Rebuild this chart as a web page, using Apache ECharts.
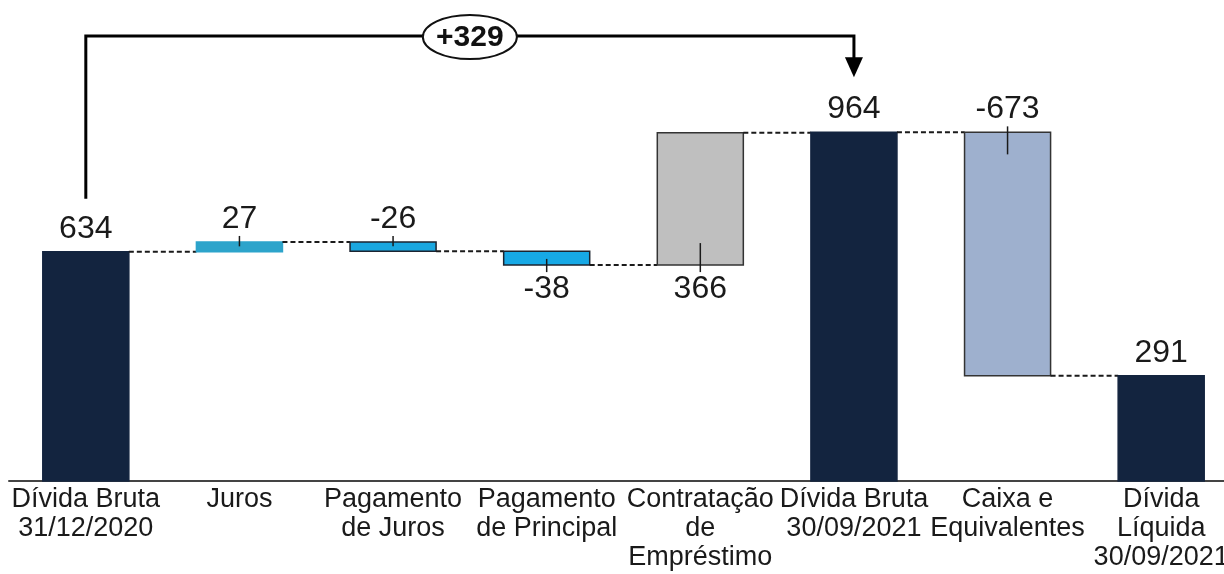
<!DOCTYPE html>
<html>
<head>
<meta charset="utf-8">
<script src="https://cdn.jsdelivr.net/npm/echarts@6/dist/echarts.min.js"></script>
<style>
html,body{margin:0;padding:0;background:#fff;overflow:hidden;width:1224px;height:574px;}
#chart{width:1238px;height:574px;}
</style>
</head>
<body>
<div id="chart"></div>
<script>
// ---- data ----
const categories = [
  'Dívida Bruta\n31/12/2020',
  'Juros',
  'Pagamento\nde Juros',
  'Pagamento\nde Principal',
  'Contratação\nde\nEmpréstimo',
  'Dívida Bruta\n30/09/2021',
  'Caixa e\nEquivalentes',
  'Dívida\nLíquida\n30/09/2021'
];
const values = [634, 27, -26, -38, 366, 964, -673, 291];
const isTotal = [true, false, false, false, false, true, false, true];
const bracketFrom = 0;
const bracketTo = 5;
const bracketValue = 329;

// ---- styles ----
const fills = ['#13243F', '#2DA4CB', '#1AA7E0', '#17A9E6', '#BFBFBF', '#13243F', '#9EB0CE', '#13243F'];
const strokes = ['#13243F', '#2DA4CB', '#1c2430', '#1c2430', '#333333', '#13243F', '#333333', '#13243F'];
const labelSide = ['top', 'top', 'top', 'bottom', 'bottom', 'top', 'top', 'top'];
const FONT = '"Liberation Sans", Arial, sans-serif';

// build start/end table
const table = [];
let running = 0;
values.forEach((v, i) => {
  let s, e;
  if (isTotal[i]) { s = 0; e = v; }
  else { s = running; e = running + v; }
  running = e;
  table.push([i, s, e, v]);
});

function renderBar(params, api) {
  const idx = api.value(0);
  const s = api.value(1), e = api.value(2), v = api.value(3);
  const p0 = api.coord([idx, s]);
  const p1 = api.coord([idx, e]);
  const band = api.size([1, 0])[0];
  const bw = band * 0.56;
  const cx = p0[0];
  const yTop = Math.min(p0[1], p1[1]);
  const yBot = Math.max(p0[1], p1[1]);
  const h = yBot - yTop;
  const children = [];
  children.push({
    type: 'rect',
    shape: { x: cx - bw / 2, y: yTop, width: bw, height: h },
    style: { fill: fills[idx], stroke: strokes[idx], lineWidth: 1.5 }
  });
  if (idx < values.length - 1) {
    children.push({
      type: 'line',
      shape: { x1: cx + bw / 2, y1: p1[1], x2: cx + band - bw / 2, y2: p1[1] },
      style: { stroke: '#1a1a1a', lineWidth: 2, lineDash: [5, 3] }
    });
  }
  const side = labelSide[idx];
  if (!isTotal[idx]) {
    const inner = Math.min(h * 0.45, 22);
    if (side === 'top') {
      children.push({ type: 'line', shape: { x1: cx, y1: yTop - 6, x2: cx, y2: yTop + inner },
        style: { stroke: '#1a1a1a', lineWidth: 1.5 } });
    } else {
      children.push({ type: 'line', shape: { x1: cx, y1: yBot - inner, x2: cx, y2: yBot + 7 },
        style: { stroke: '#1a1a1a', lineWidth: 1.5 } });
    }
  }
  children.push({
    type: 'text',
    x: cx,
    y: side === 'top' ? yTop - 7 : yBot + 8,
    style: {
      text: String(v),
      fontSize: 32,
      fontFamily: FONT,
      fill: '#1a1a1a',
      align: 'center',
      verticalAlign: side === 'top' ? 'bottom' : 'top'
    }
  });
  return { type: 'group', children };
}

function renderBracket(params, api) {
  const a = api.value(0), b = api.value(1);
  const pa = api.coord([a, values[a]]);
  const pb = api.coord([b, values[b]]);
  const topY = params.coordSys.y + 36;
  const midX = (pa[0] + pb[0]) / 2;
  return {
    type: 'group',
    children: [
      { type: 'polyline',
        shape: { points: [[pa[0], pa[1] - 53], [pa[0], topY], [pb[0], topY], [pb[0], pb[1] - 72]] },
        style: { stroke: '#000', lineWidth: 3, fill: null } },
      { type: 'polygon',
        shape: { points: [[pb[0] - 9, pb[1] - 75], [pb[0] + 9, pb[1] - 75], [pb[0], pb[1] - 55]] },
        style: { fill: '#000' } },
      { type: 'ellipse',
        shape: { cx: midX, cy: topY + 1, rx: 47, ry: 22 },
        style: { fill: '#fff', stroke: '#111', lineWidth: 2 } },
      { type: 'text', x: midX, y: topY + 2,
        style: { text: '+' + api.value(2), fontSize: 30, fontWeight: 'bold', fontFamily: FONT,
          fill: '#111', align: 'center', verticalAlign: 'middle' } }
    ]
  };
}

const chart = echarts.init(document.getElementById('chart'), null, { renderer: 'canvas' });
chart.setOption({
  animation: false,
  backgroundColor: '#fff',
  grid: { left: 9, right: 0, top: 0, bottom: 93, containLabel: false, outerBoundsMode: 'none' },
  xAxis: {
    type: 'category',
    data: categories,
    axisLine: { show: true, lineStyle: { color: '#444', width: 2 } },
    axisTick: { show: false },
    axisLabel: { interval: 0, fontSize: 27, lineHeight: 29, color: '#1a1a1a', fontFamily: FONT, margin: 4 }
  },
  yAxis: { type: 'value', min: 0, max: 1330, show: false, splitLine: { show: false } },
  series: [
    { type: 'custom', renderItem: renderBar, data: table, encode: { x: 0, y: [1, 2] }, clip: false },
    { type: 'custom', renderItem: renderBracket, data: [[bracketFrom, bracketTo, bracketValue]], clip: false, z: 5 }
  ]
});
</script>
</body>
</html>
